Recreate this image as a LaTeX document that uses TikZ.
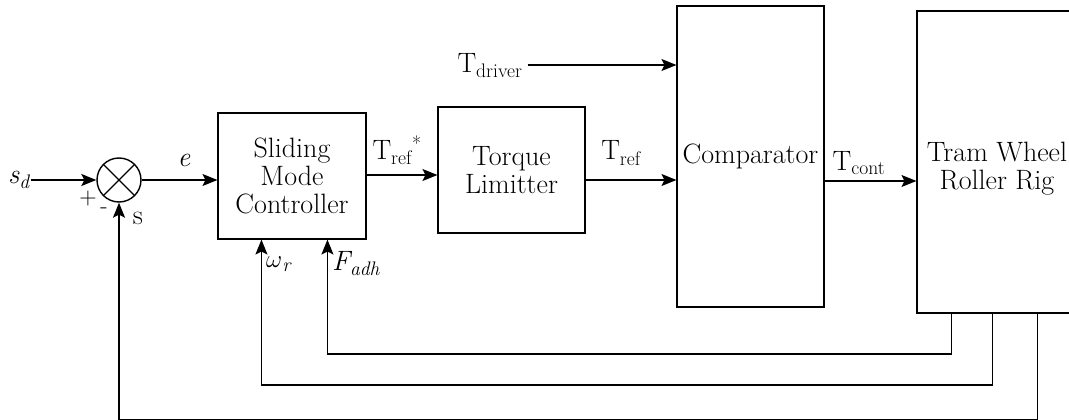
\documentclass[tikz,border=0pt]{standalone}
\usepackage{fontspec}
\usetikzlibrary{arrows.meta,calc}
\begin{document}
\begin{tikzpicture}[x=1pt,y=-1pt,
  box/.style={draw, line width=1.1pt, inner sep=0pt, align=center, font=\fontsize{28}{28}\selectfont},
  lbl/.style={inner sep=1pt, font=\fontsize{28}{30}\selectfont},
  sml/.style={inner sep=0pt, font=\fontsize{24}{26}\selectfont},
  arr/.style={line width=1.3pt, -{Stealth[length=15pt,width=12pt,inset=3pt]}},
  ln/.style={line width=1.3pt}]
\useasboundingbox (0,0) rectangle (1069,420);
% blocks
\node[draw, circle, minimum size=44pt, line width=1.4pt, inner sep=0pt,
  path picture={\draw[line width=1.4pt] (path picture bounding box.north west) -- (path picture bounding box.south east)
  (path picture bounding box.north east) -- (path picture bounding box.south west);}] (sum) at (119,180) {};
\node[box, minimum width=148pt, minimum height=126pt] (smc) at (292,176) {Sliding\\Mode\\Controller};
\node[box, minimum width=147pt, minimum height=126pt] (tl) at (511.5,170) {Torque\\Limitter};
\node[box, minimum width=147pt, minimum height=301pt] (comp) at (750.5,156.5) {Comparator};
\node[box, minimum width=160pt, minimum height=302pt] (tram) at (997,162) {};
\node[lbl, align=center, font=\fontsize{28}{28}\selectfont] (tramtxt) at (997,169) {Tram Wheel\\Roller Rig};
% labels
\node[lbl] (sd) at (19,180) {\itshape s\textsubscript{d}};
\node[sml] (plus) at (88,199) {+};
\node[sml] (minus) at (104,211) {-};
\node[lbl] (s) at (138,218) {s};
\node[lbl] (e) at (184,160) {\itshape e};
\node[lbl] (trs) at (397,150) {T\textsubscript{ref}\textsuperscript{*}};
\node[lbl] (tdrv) at (490,66) {T\textsubscript{driver}};
\node[lbl] (tr) at (621,153) {T\textsubscript{ref}};
\node[lbl] (tc) at (859,163) {T\textsubscript{cont}};
\node[lbl, anchor=west] (wr) at (265,264) {\itshape $\omega$\textsubscript{r}};
\node[lbl, anchor=west] (fa) at (331,264) {\itshape F\textsubscript{adh}};
% forward connectors
\draw[arr] (sd.east) -- (sum.west);
\draw[arr] (sum.east) -- (sum.east -| smc.west);
\draw[arr] (smc.east |- 0,175) -- (tl.west |- 0,175);
\draw[arr] ([yshift=-10pt]tl.east) -- ([yshift=-10pt]tl.east -| comp.west);
\draw[arr] (tdrv.east |- 0,65) ++(4,0) -- (comp.west |- 0,65);
\draw[arr] (comp.east |- 0,181) -- (tram.west |- 0,181);
% feedback
\coordinate (o1) at ([xshift=35pt]tram.south west);
\coordinate (o2) at ([xshift=76pt]tram.south west);
\coordinate (o3) at ([xshift=121pt]tram.south west);
\draw[arr] (o1) -- (o1 |- 0,354) -| ([xshift=110pt]smc.south west);
\draw[arr] (o2) -- (o2 |- 0,385) -| ([xshift=44pt]smc.south west);
\draw[arr] (o3) -- (o3 |- 0,420) -| (sum.south);
\end{tikzpicture}
\end{document}
